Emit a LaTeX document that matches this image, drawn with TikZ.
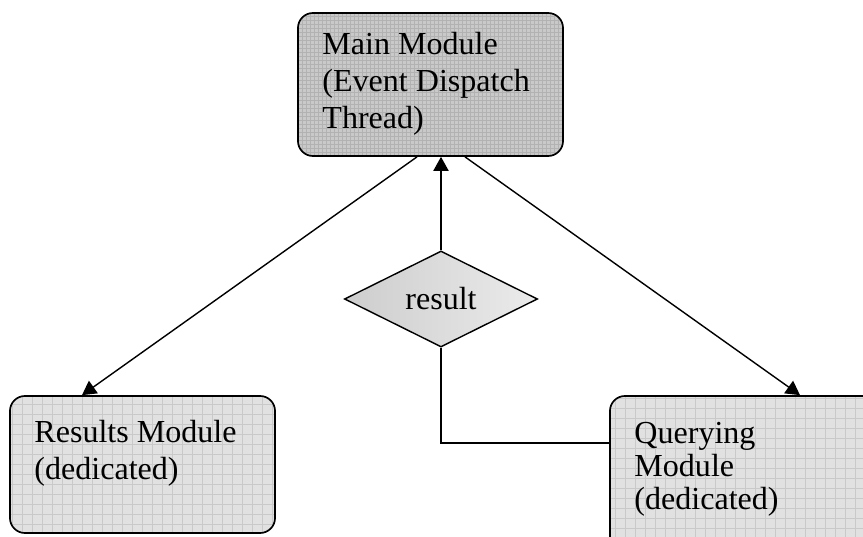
\documentclass[tikz,border=0pt]{standalone}
\usepackage{fontspec}
\setmainfont{Liberation Serif}
\usetikzlibrary{arrows.meta, positioning, calc, shapes.geometric}
\definecolor{main-fill}{HTML}{C9C9C9}
\definecolor{main-grid}{HTML}{B2B2B2}
\definecolor{mod-fill}{HTML}{E1E1E1}
\definecolor{mod-grid}{HTML}{C9C9C9}
\definecolor{dia-left}{HTML}{CDCDCD}
\definecolor{dia-right}{HTML}{EBEBEB}
\tikzset{
  module/.style={
    draw=black, line width=1.2pt, rounded corners=0.375cm,
    inner sep=0pt
  },
  gridfill/.style={
    path picture={\draw[draw=#1, line width=0.4pt]
      (path picture bounding box.south west) grid[step=0.25cm]
      (path picture bounding box.north east);}
  },
  finegrid/.style={
    path picture={\draw[draw=#1, line width=0.25pt]
      (path picture bounding box.south west) grid[step=0.1cm]
      (path picture bounding box.north east);}
  },
  modtext/.style={
    inner sep=0pt, align=left, anchor=north west,
    font=\fontsize{22.8pt}{26.3pt}\selectfont
  },
  decision/.style={
    diamond, draw=black, line width=1pt, inner sep=0pt,
    left color=dia-left, right color=dia-right,
    minimum width=4.825cm, minimum height=2.4cm,
    font=\fontsize{22.8pt}{26.3pt}\selectfont
  },
  flow/.style={-{Triangle[length=0.35cm, width=0.38cm]}, line width=1pt},
  plain/.style={line width=1pt}
}

\begin{document}
\begin{tikzpicture}[x=0.025cm, y=-0.025cm]
  \useasboundingbox (0,0) rectangle (863,537);

  % ---- Main module -----------------------------------------------------------
  \node[module, fill=main-fill, finegrid=main-grid,
        minimum width=6.625cm, minimum height=3.575cm] (main) at (430.5, 84.5) {};
  \node[modtext, below right=0.5cm and 0.625cm of main.north west] (maintext)
    {Main Module\\(Event Dispatch\\Thread)};

  % ---- Results module --------------------------------------------------------
  \node[module, fill=mod-fill, gridfill=mod-grid,
        minimum width=6.625cm, minimum height=3.425cm] (results) at (142.5, 464.5) {};
  \node[modtext, below right=0.625cm and 0.625cm of results.north west] (resultstext)
    {Results Module\\(dedicated)};

  % ---- Querying module -------------------------------------------------------
  \node[module, fill=mod-fill, gridfill=mod-grid,
        minimum width=6.75cm, minimum height=4.1cm] (query) at (745, 478) {};
  \node[modtext, font=\fontsize{22.8pt}{23.5pt}\selectfont,
        below right=0.675cm and 0.625cm of query.north west] (querytext)
    {Querying\\Module\\(dedicated)};

  % ---- result decision -------------------------------------------------------
  \node[decision] (result) at (441, 299) {result};

  % ---- connectors ------------------------------------------------------------
  \draw[flow] ($(main.south)+(-13.5,0)$) -- ($(results.north)+(-60.5,0)$);
  \draw[flow] ($(main.south)+(34.5,0)$) -- ($(query.north)+(55,0)$);
  \draw[flow] (result.north) -- (result.north |- main.south);
  \draw[plain] (result.south) |- ($(query.west)+(0,-35)$);

\end{tikzpicture}
\end{document}
